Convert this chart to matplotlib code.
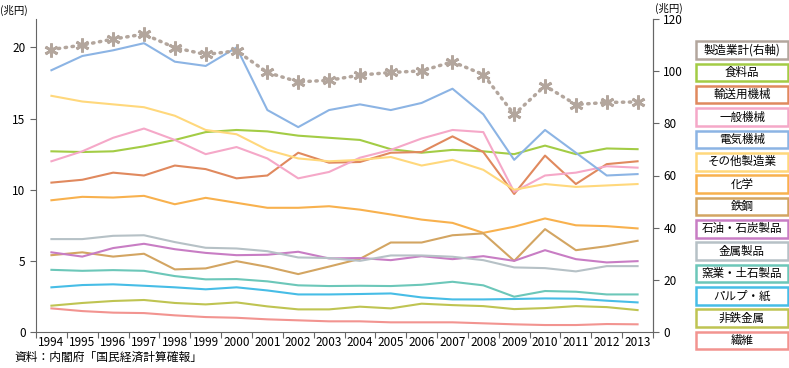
import numpy as np
import matplotlib
matplotlib.use("Agg")
import matplotlib.pyplot as plt
from matplotlib.patches import Rectangle

plt.rcParams['font.family'] = ['Noto Sans CJK JP', 'DejaVu Sans']

years = [str(y) for y in range(1994, 2014)]

# 製造業計 (right axis)
total = [108.3, 110.0, 112.3, 114.2, 109.0, 106.4, 107.8, 99.5, 95.9, 96.5,
         98.5, 99.5, 100.1, 103.6, 98.7, 83.4, 94.4, 87.2, 88.0, 88.2]

# left axis series
food = [12.7, 12.65, 12.7, 13.05, 13.5, 14.05, 14.2, 14.1, 13.8, 13.65,
        13.5, 12.85, 12.6, 12.8, 12.7, 12.5, 13.1, 12.5, 12.9, 12.85]
transport = [10.5, 10.7, 11.2, 11.0, 11.7, 11.45, 10.8, 11.0, 12.6, 11.9,
             11.95, 12.6, 12.65, 13.75, 12.65, 9.7, 12.4, 10.4, 11.8, 12.0]
general = [12.0, 12.7, 13.65, 14.3, 13.5, 12.5, 13.0, 12.2, 10.8, 11.25,
           12.25, 12.8, 13.6, 14.2, 14.05, 9.85, 11.0, 11.2, 11.65, 11.55]
electric = [18.4, 19.4, 19.8, 20.3, 19.0, 18.7, 20.0, 15.6, 14.4, 15.6,
            16.0, 15.6, 16.1, 17.1, 15.3, 12.1, 14.2, 12.6, 11.0, 11.1]
other = [16.6, 16.2, 16.0, 15.8, 15.2, 14.2, 13.9, 12.8, 12.2, 12.0,
         12.1, 12.3, 11.7, 12.1, 11.4, 10.0, 10.4, 10.2, 10.3, 10.4]
chemical = [9.26, 9.5, 9.45, 9.57, 8.98, 9.43, 9.08, 8.73, 8.73, 8.84,
            8.6, 8.26, 7.9, 7.67, 6.97, 7.4, 7.98, 7.5, 7.44, 7.28]
steel = [5.4, 5.6, 5.3, 5.5, 4.4, 4.47, 4.98, 4.58, 4.07, 4.6,
         5.14, 6.29, 6.29, 6.8, 6.93, 5.0, 7.23, 5.75, 6.03, 6.41]
petroleum = [5.6, 5.3, 5.9, 6.2, 5.82, 5.56, 5.4, 5.43, 5.64, 5.17,
             5.2, 5.05, 5.33, 5.12, 5.33, 5.0, 5.75, 5.12, 4.89, 4.98]
metal = [6.53, 6.53, 6.76, 6.8, 6.32, 5.92, 5.87, 5.68, 5.24, 5.2,
         5.0, 5.38, 5.38, 5.29, 5.05, 4.54, 4.49, 4.26, 4.63, 4.63]
ceramics = [4.37, 4.3, 4.35, 4.3, 3.93, 3.7, 3.72, 3.56, 3.28, 3.23,
            3.25, 3.23, 3.32, 3.53, 3.28, 2.48, 2.88, 2.83, 2.64, 2.64]
pulp = [3.14, 3.3, 3.35, 3.25, 3.14, 3.0, 3.14, 2.92, 2.64, 2.64,
        2.67, 2.71, 2.43, 2.29, 2.29, 2.32, 2.36, 2.34, 2.2, 2.08]
nonferrous = [1.85, 2.04, 2.18, 2.25, 2.04, 1.94, 2.08, 1.8, 1.59, 1.59,
              1.78, 1.66, 1.99, 1.89, 1.82, 1.61, 1.68, 1.82, 1.75, 1.54]
textile = [1.66, 1.47, 1.36, 1.33, 1.17, 1.05, 1.0, 0.89, 0.82, 0.75,
           0.75, 0.68, 0.68, 0.68, 0.61, 0.54, 0.49, 0.49, 0.56, 0.54]

series = [
    ("食料品", food, "#a3cc45"),
    ("輸送用機械", transport, "#e0895e"),
    ("一般機械", general, "#f5a8c8"),
    ("電気機械", electric, "#8cb4e4"),
    ("その他製造業", other, "#ffd87c"),
    ("化学", chemical, "#f8b14e"),
    ("鉄鋼", steel, "#d3a562"),
    ("石油・石炭製品", petroleum, "#c87dc4"),
    ("金属製品", metal, "#b6c1c6"),
    ("窯業・土石製品", ceramics, "#6cc7b9"),
    ("パルプ・紙", pulp, "#47bde6"),
    ("非鉄金属", nonferrous, "#bfc452"),
    ("繊維", textile, "#f29490"),
]
total_label = "製造業計(右軸)"
total_color = "#b3a69d"

W, H = 789, 368
fig = plt.figure(figsize=(W / 100, H / 100), dpi=100)
ax = fig.add_axes([36 / W, 1 - 332 / H, (653 - 36) / W, (332 - 19) / H])
x = np.arange(len(years))

spine_c = "#666666"
for name, vals, c in series:
    ax.plot(x, vals, color=c, lw=1.5)

ax.set_xlim(-0.5, len(years) - 0.5)
ax.set_ylim(0, 22)
ax.set_yticks([0, 5, 10, 15, 20])
ax.set_xticks(x)
ax.set_xticklabels(years)
ax.set_xticks(np.arange(-0.5, len(years), 1), minor=True)
ax.tick_params(axis='x', which='major', length=0, labelsize=8.5, pad=3)
ax.tick_params(axis='x', which='minor', length=4, color=spine_c, width=0.8)
ax.tick_params(axis='y', length=4, color=spine_c, width=0.8, labelsize=8.5)
ax.spines['top'].set_visible(False)
for s in ['left', 'bottom', 'right']:
    ax.spines[s].set_color(spine_c)
    ax.spines[s].set_linewidth(0.8)

ax2 = ax.twinx()
ax2.plot(x, total, color=total_color, lw=2.5, ls=(0, (0.4, 1.6)),
         marker=(6, 2, 0), markersize=10, markeredgewidth=2.0,
         markeredgecolor=total_color, dash_capstyle='round')
ax2.set_ylim(0, 120)
ax2.set_yticks(range(0, 121, 20))
ax2.tick_params(axis='y', length=4, color=spine_c, width=0.8, labelsize=8.5)
ax2.spines['top'].set_visible(False)
ax2.spines['left'].set_visible(False)
ax2.spines['bottom'].set_visible(False)
ax2.spines['right'].set_color(spine_c)
ax2.spines['right'].set_linewidth(0.8)

fig.text(0 / W, 1 - 10 / H, "(兆円)", fontsize=7.5, va='center', ha='left')
fig.text(655 / W, 1 - 8 / H, "(兆円)", fontsize=7.5, va='center', ha='left')
fig.text(14 / W, 1 - 357 / H, "資料：内閣府「国民経済計算確報」", fontsize=8.5,
         va='center', ha='left')

# legend boxes
labels = [(total_label, total_color)] + [(n, c) for n, _, c in series]
bx0, bw, bh = 696 / W, 92 / W, 17.5 / H
for i, (lab, c) in enumerate(labels):
    top = 41.3 + i * 22.34
    y0 = 1 - (top + 17.5) / H
    fig.patches.append(Rectangle((bx0, y0), bw, bh, transform=fig.transFigure,
                                 facecolor='white', edgecolor=c, lw=1.8))
    fig.text(bx0 + bw / 2, y0 + bh / 2, lab, fontsize=8.3, ha='center',
             va='center')

fig.savefig("out.png", dpi=100)
